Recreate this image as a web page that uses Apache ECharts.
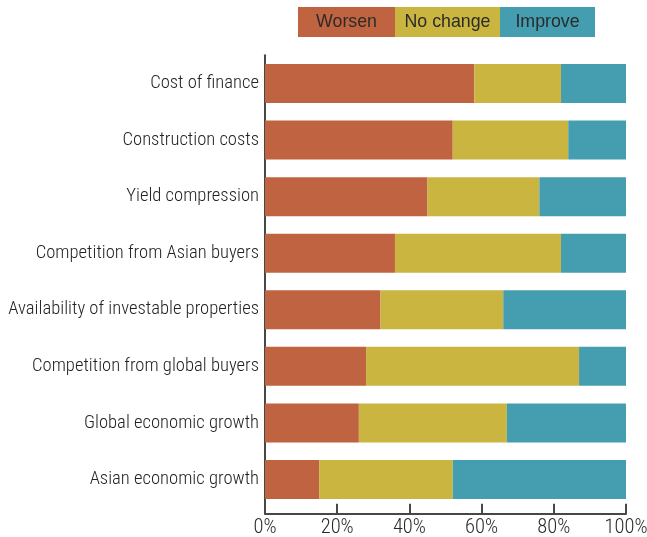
<!DOCTYPE html>
<html>
<head>
<meta charset="utf-8">
<script src="https://cdn.jsdelivr.net/npm/echarts@6/dist/echarts.min.js"></script>
<style>
html,body{margin:0;padding:0;background:#fff;}
#chart{width:647px;height:537px;}
</style>
</head>
<body>
<div id="chart"></div>
<script>
const categories = [
  'Cost of finance',
  'Construction costs',
  'Yield compression',
  'Competition from Asian buyers',
  'Availability of investable properties',
  'Competition from global buyers',
  'Global economic growth',
  'Asian economic growth'
];
const seriesNames = ['Worsen', 'No change', 'Improve'];
const worsen   = [58, 52, 45, 36, 32, 28, 26, 15];
const noChange = [24, 32, 31, 46, 34, 59, 41, 37];
const improve  = [18, 16, 24, 18, 34, 13, 33, 48];
const xTicks = [0, 20, 40, 60, 80, 100];

const colors = ['#c06340', '#c9b540', '#459eaf'];
const seriesData = [worsen, noChange, improve];

// legend layout (styling only)
const legendX = 298, legendY = 7, legendH = 30;
const legendW = [97, 105, 95];

const condensed = '"Roboto Condensed", "DejaVu Sans Condensed", sans-serif';

const chart = echarts.init(document.getElementById('chart'), null, {renderer: 'canvas'});

const graphics = [];
let lx = legendX;
seriesNames.forEach((n, i) => {
  graphics.push({type: 'rect', left: lx, top: legendY, shape: {width: legendW[i], height: legendH}, style: {fill: colors[i]}});
  graphics.push({type: 'text', x: lx + legendW[i] / 2, y: legendY + legendH / 2 + 0.5,
    style: {text: n, fill: '#2b2b2b', font: '17.8px "Liberation Sans", Arial, sans-serif', textAlign: 'center', textVerticalAlign: 'middle'}});
  lx += legendW[i];
});

const option = {
  animation: false,
  grid: {left: 265, right: 21, top: 55.2, bottom: 29.2, containLabel: false, outerBoundsMode: 'none'},
  xAxis: {
    type: 'value', min: 0, max: 100, interval: 20, offset: 6,
    axisLine: {show: true, lineStyle: {color: '#474747', width: 2}},
    axisTick: {show: true, inside: true, length: 10, lineStyle: {color: '#474747', width: 2}},
    splitLine: {show: false},
    axisLabel: {margin: 4, color: '#2a2a2a', fontSize: 20.5, fontWeight: 300, fontFamily: condensed,
      formatter: v => xTicks.includes(v) ? v + '%' : ''}
  },
  yAxis: {
    type: 'category', data: categories, inverse: true,
    axisLine: {show: true, lineStyle: {color: '#474747', width: 2}, symbol: ['rect', 'none'], symbolSize: [2, 13]},
    axisTick: {show: false},
    axisLabel: {margin: 6, color: '#222', fontSize: 18.6, fontWeight: 300, fontFamily: condensed}
  },
  graphic: graphics,
  series: seriesNames.map((n, i) => ({
    name: n, type: 'bar', stack: 'total', barWidth: 39, data: seriesData[i], itemStyle: {color: colors[i]}
  }))
};
chart.setOption(option);
</script>
</body>
</html>
